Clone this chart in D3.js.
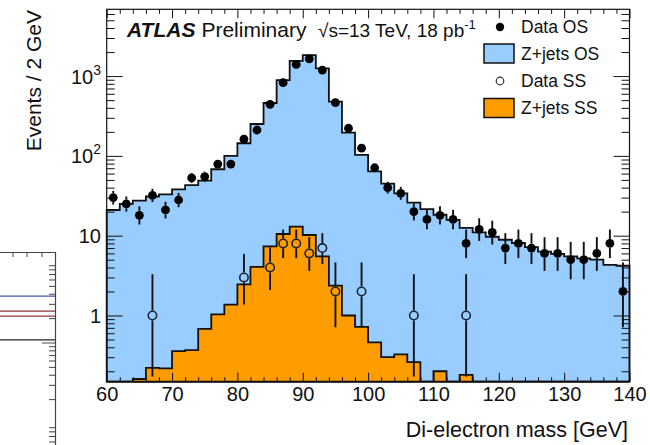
<!DOCTYPE html>
<html>
<head>
<meta charset="utf-8">
<script src="https://cdn.jsdelivr.net/npm/d3@7"></script>
<style>
  body { margin: 0; background: #fff; }
  svg { display: block; font-family: "Liberation Sans", Arial, Helvetica, sans-serif; }
</style>
</head>
<body>
<div id="chart"></div>
<script>
// bins (low edges, 2 GeV wide)
const binLow = [60, 62, 64, 66, 68, 70, 72, 74, 76, 78,
                80, 82, 84, 86, 88, 90, 92, 94, 96, 98,
                100, 102, 104, 106, 108, 110, 112, 114, 116, 118,
                120, 122, 124, 126, 128, 130, 132, 134, 136, 138];

const dataOS = [30, 25, 18, 32, 21, 28, 53, 55, 79, 79,
                162, 211, 443, 826, 1400, 1645, 1189, 464, 222, 125,
                71, 40, 34, 20, 16, 18, 16, 8, 12, 11,
                7, 8, 7, 6, 6, 5, 5, 6, 8, 2];

const zjetsOS = [21, 25, 27.5, 31, 33, 38, 43, 49, 68, 100,
                 144, 251, 460, 890, 1550, 1830, 1250, 480, 196, 103,
                 64, 45, 34, 26, 21.5, 18.3, 15.8, 12.5, 11, 9.7,
                 8.9, 8.1, 7.2, 6.3, 5.9, 5.5, 5.2, 5.0, 4.3, 4.2];

const dataSS = [0, 0, 0, 1, 0, 0, 0, 0, 0, 0,
                3, 0, 4, 8, 8, 6, 7, 2, 0, 2,
                0, 0, 0, 1, 0, 0, 0, 1, 0, 0,
                0, 0, 0, 0, 0, 0, 0, 0, 0, 0];

const zjetsSS = [0, 0, 0.16, 0.22, 0.218, 0.358, 0.368, 0.68, 1.03, 1.37,
                 2.45, 4.06, 7.35, 10.5, 13.0, 10.2, 5.5, 2.37, 1.0, 0.72,
                 0.46, 0.30, 0.325, 0.26, 0, 0.20, 0, 0.18, 0, 0,
                 0, 0, 0, 0, 0, 0, 0, 0, 0, 0];

const xTicks = [60, 70, 80, 90, 100, 110, 120, 130, 140];
const yTicks = [1, 10, 100, 1000];
const yLabels = [["1", ""], ["10", ""], ["10", "2"], ["10", "3"]];

// leftover strip of a neighbouring figure (left edge of the picture)
const fragLevels = [38, 24.8, 21.5, 10.9];
const fragColors = ["#3f5ba8", "#8a3434", "#8a3434", "#222"];

const BLUE = "#99ccff";
const ORANGE = "#ff9c00";
const W = 650, H = 445;
const m = { left: 106.7, right: 629.5, top: 9.3, bottom: 381.7 };
const yMin = 0.148, yMax = 6870;

const svg = d3.select("#chart").append("svg")
  .attr("width", W).attr("height", H)
  .attr("viewBox", [0, 0, W, H]);

const x = d3.scaleLinear().domain([60, 140]).range([m.left, m.right]);
const y = d3.scaleLog().domain([yMin, yMax]).range([m.bottom, m.top]);

// ---- neighbouring figure fragment ----
const fy = d3.scaleLog().domain([1, 100]).range([424, 262]);
const frag = svg.append("g");
fragLevels.forEach((v, i) => {
  frag.append("line")
    .attr("x1", 0).attr("x2", 55)
    .attr("y1", fy(v)).attr("y2", fy(v))
    .attr("stroke", fragColors[i]).attr("stroke-width", 1.3);
});
const fragMinor = [];
[0.1, 1, 10].forEach(d => d3.range(2, 10).forEach(k => fragMinor.push(d * k)));
frag.selectAll(null).data(fragMinor.filter(v => fy(v) > 252 && fy(v) < 445)).enter()
  .append("line")
  .attr("x1", 49).attr("x2", 55)
  .attr("y1", d => fy(d)).attr("y2", d => fy(d))
  .attr("stroke", "#444").attr("stroke-width", 1);
frag.selectAll(null).data([10]).enter()
  .append("line")
  .attr("x1", 42).attr("x2", 55)
  .attr("y1", d => fy(d)).attr("y2", d => fy(d))
  .attr("stroke", "#444").attr("stroke-width", 1);
frag.selectAll(null).data([13, 27, 42]).enter()
  .append("line")
  .attr("x1", d => d).attr("x2", d => d)
  .attr("y1", 252).attr("y2", 257)
  .attr("stroke", "#444");
frag.append("path")
  .attr("d", "M0,252.5H55.5V445")
  .attr("fill", "none").attr("stroke", "#444").attr("stroke-width", 1.2);

// ---- histograms ----
function stepPoints(vals) {
  const pts = [[x(binLow[0]), y(yMin)]];
  vals.forEach((v, i) => {
    const yy = y(Math.max(v, yMin));
    pts.push([x(binLow[i]), yy], [x(binLow[i] + 2), yy]);
  });
  pts.push([x(binLow[binLow.length - 1] + 2), y(yMin)]);
  return pts;
}
const line = d3.line();

svg.append("path")
  .attr("d", line(stepPoints(zjetsOS)) + "Z")
  .attr("fill", BLUE).attr("stroke", "#111").attr("stroke-width", 1.8)
  .attr("stroke-linejoin", "miter");

svg.append("path")
  .attr("d", line(stepPoints(zjetsSS)) + "Z")
  .attr("fill", ORANGE).attr("stroke", "#111").attr("stroke-width", 1.8)
  .attr("stroke-linejoin", "miter");

// ---- axes (ROOT style, ticks inside) ----
const xMinor = d3.range(60, 141, 2).filter(v => v % 10 !== 0);
const yMinor = [];
[0.1, 1, 10, 100, 1000].forEach(d => d3.range(2, 10).forEach(k => {
  const v = d * k;
  if (v > yMin && v < yMax) yMinor.push(v);
}));

function tickAxis(axis, transform) {
  const g = svg.append("g").attr("transform", transform).call(axis);
  g.select(".domain").remove();
  g.selectAll(".tick line").attr("stroke", "#111").attr("stroke-width", 1);
  return g;
}

const xb = tickAxis(d3.axisBottom(x).tickValues(xTicks).tickSize(-9).tickPadding(5).tickFormat(d3.format("d")),
  `translate(0,${m.bottom})`);
xb.selectAll("text").attr("font-size", 20).attr("fill", "#111")
  .attr("font-family", "Liberation Sans, Arial, sans-serif");
tickAxis(d3.axisBottom(x).tickValues(xMinor).tickSize(-4.5).tickFormat(""), `translate(0,${m.bottom})`);
tickAxis(d3.axisTop(x).tickValues(xTicks).tickSize(-9).tickFormat(""), `translate(0,${m.top})`);
tickAxis(d3.axisTop(x).tickValues(xMinor).tickSize(-4.5).tickFormat(""), `translate(0,${m.top})`);

tickAxis(d3.axisLeft(y).tickValues(yTicks).tickSize(-16).tickFormat(""), `translate(${m.left},0)`);
tickAxis(d3.axisLeft(y).tickValues(yMinor).tickSize(-8).tickFormat(""), `translate(${m.left},0)`);
tickAxis(d3.axisRight(y).tickValues(yTicks).tickSize(-16).tickFormat(""), `translate(${m.right},0)`);
tickAxis(d3.axisRight(y).tickValues(yMinor).tickSize(-8).tickFormat(""), `translate(${m.right},0)`);

// y tick labels with superscripts
yTicks.forEach((v, i) => {
  const t = svg.append("text")
    .attr("x", 101).attr("y", y(v) + 7.5)
    .attr("text-anchor", "end")
    .attr("font-size", 20).attr("fill", "#111");
  t.append("tspan").text(yLabels[i][0]);
  if (yLabels[i][1]) {
    t.append("tspan").attr("font-size", 14).attr("dy", -9).text(yLabels[i][1]);
  }
});

// frame
svg.append("rect")
  .attr("x", m.left).attr("y", m.top)
  .attr("width", m.right - m.left).attr("height", m.bottom - m.top)
  .attr("fill", "none").attr("stroke", "#111").attr("stroke-width", 1.2);

// ---- data points ----
function poissonInterval(n) {
  const lo = n * Math.pow(1 - 1 / (9 * n) - 1 / (3 * Math.sqrt(n)), 3);
  const n1 = n + 1;
  const hi = n1 * Math.pow(1 - 1 / (9 * n1) + 1 / (3 * Math.sqrt(n1)), 3);
  return [lo, hi];
}

function drawPoints(vals, r, filled) {
  const g = svg.append("g");
  vals.forEach((n, i) => {
    if (n <= 0) return;
    const cx = x(binLow[i] + 1);
    const cy = y(n);
    const [lo, hi] = poissonInterval(n);
    const yHi = y(hi), yLo = y(Math.max(lo, yMin));
    if (yHi < cy - r) {
      g.append("line").attr("x1", cx).attr("x2", cx)
        .attr("y1", yHi).attr("y2", cy - r)
        .attr("stroke", "#111").attr("stroke-width", 1.9);
    }
    if (yLo > cy + r) {
      g.append("line").attr("x1", cx).attr("x2", cx)
        .attr("y1", cy + r).attr("y2", yLo)
        .attr("stroke", "#111").attr("stroke-width", 1.9);
    }
    g.append("circle")
      .attr("cx", cx).attr("cy", cy).attr("r", filled ? r : r - 0.8)
      .attr("fill", filled ? "#000" : "none")
      .attr("stroke", filled ? "none" : "#1c2433")
      .attr("stroke-width", filled ? 0 : 1.6);
  });
}
drawPoints(dataOS, 4.4, true);
drawPoints(dataSS, 5, false);

// ---- labels ----
const lbl = svg.append("text").attr("x", 127).attr("y", 37).attr("font-size", 21).attr("fill", "#111");
lbl.append("tspan").attr("font-weight", "bold").attr("font-style", "italic").text("ATLAS");
lbl.append("tspan").attr("dx", 6).text("Preliminary");

const en = svg.append("text").attr("x", 318).attr("y", 37).attr("font-size", 19).attr("fill", "#111");
en.append("tspan").text("\u221As=13 TeV, 18 pb");
en.append("tspan").attr("font-size", 13).attr("dy", -8).text("-1");

// legend
const legend = svg.append("g").attr("font-size", 17.5).attr("fill", "#111");
const legRows = [
  { y: 27, label: "Data OS" },
  { y: 53.5, label: "Z+jets OS" },
  { y: 81, label: "Data SS" },
  { y: 108, label: "Z+jets SS" }
];
legend.append("circle").attr("cx", 500).attr("cy", legRows[0].y).attr("r", 4.2).attr("fill", "#000");
legend.append("rect").attr("x", 484).attr("y", legRows[1].y - 9.5).attr("width", 30).attr("height", 19)
  .attr("fill", BLUE).attr("stroke", "#111").attr("stroke-width", 1.5);
legend.append("circle").attr("cx", 500).attr("cy", legRows[2].y).attr("r", 3.8)
  .attr("fill", "none").attr("stroke", "#333").attr("stroke-width", 1.2);
legend.append("rect").attr("x", 484).attr("y", legRows[3].y - 9.5).attr("width", 30).attr("height", 19)
  .attr("fill", ORANGE).attr("stroke", "#111").attr("stroke-width", 1.5);
legRows.forEach(r => {
  legend.append("text").attr("x", 521).attr("y", r.y + 6.3).text(r.label);
});

// axis titles
svg.append("text")
  .attr("x", 628).attr("y", 437)
  .attr("text-anchor", "end").attr("font-size", 21.5).attr("fill", "#111")
  .text("Di-electron mass [GeV]");

svg.append("text")
  .attr("transform", "translate(41,10) rotate(-90)")
  .attr("text-anchor", "end").attr("font-size", 21).attr("fill", "#111")
  .text("Events / 2 GeV");
</script>
</body>
</html>
